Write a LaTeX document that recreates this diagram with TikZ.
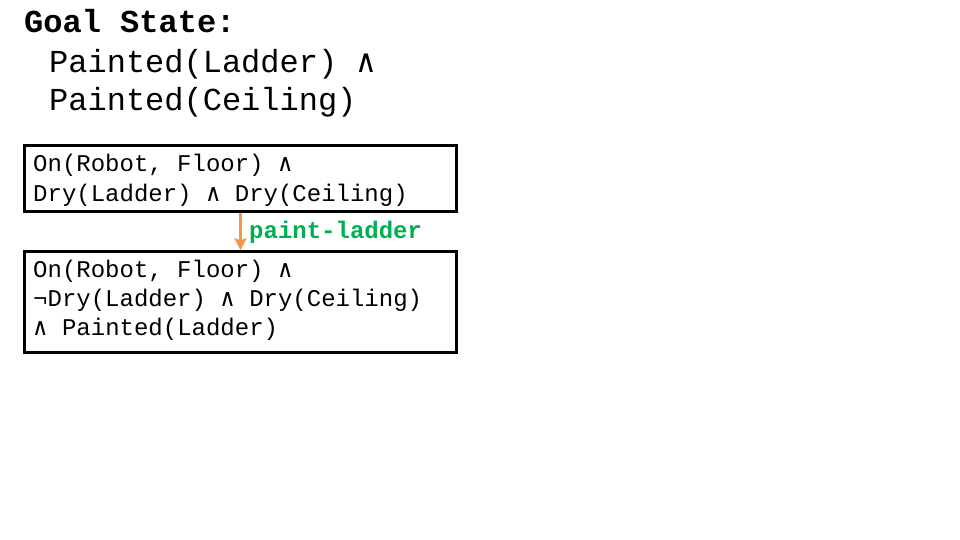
\documentclass[tikz,border=0pt]{standalone}
\usepackage{fontspec}
\setmainfont{Liberation Mono}
\newfontfamily\cour{Liberation Mono}
\newfontfamily\symf{DejaVu Sans Mono}
\newcommand\andsym{{\symf ∧}}
\usetikzlibrary{arrows.meta}
\definecolor{arroworange}{HTML}{F79646}
\definecolor{labelgreen}{HTML}{00B050}
\tikzset{
  bigtxt/.style={anchor=base west, inner sep=0pt, font=\cour\fontsize{32}{38}\selectfont},
  smalltxt/.style={anchor=base west, inner sep=0pt, font=\cour\fontsize{24}{29}\selectfont},
  statebox/.style={draw=black, line width=2.4pt, rectangle, inner sep=0pt, minimum width=432pt},
}
\begin{document}
\begin{tikzpicture}[x=1pt,y=-1pt]
\useasboundingbox (0,0) rectangle (960,540);
\node[bigtxt, font=\cour\bfseries\fontsize{32}{38}\selectfont] (title) at (24,33) {Goal State:};
\node[bigtxt] (g1) at (49,73) {Painted(Ladder) \andsym};
\node[bigtxt] (g2) at (49,111) {Painted(Ceiling)};

\node[statebox, minimum height=66pt] (box1) at (240.5,178.5) {};
\node[smalltxt] (b1l1) at (33,171.5) {On(Robot, Floor) \andsym};
\node[smalltxt] (b1l2) at (33,201) {Dry(Ladder) \andsym{} Dry(Ceiling)};

\node[statebox, minimum height=101pt] (box2) at (240.5,302) {};
\node[smalltxt] (b2l1) at (33,277) {On(Robot, Floor) \andsym};
\node[smalltxt] (b2l2) at (33,306.5) {¬Dry(Ladder) \andsym{} Dry(Ceiling)};
\node[smalltxt] (b2l3) at (33,335.5) {\andsym{} Painted(Ladder)};

\draw[arroworange, line width=3pt, -{Stealth[width=12pt,length=12pt,inset=2pt]}] (box1.south) -- (box2.north);
\node[smalltxt, font=\cour\bfseries\fontsize{24}{29}\selectfont, text=labelgreen] (lab) at (249,238) {paint-ladder};
\end{tikzpicture}
\end{document}
